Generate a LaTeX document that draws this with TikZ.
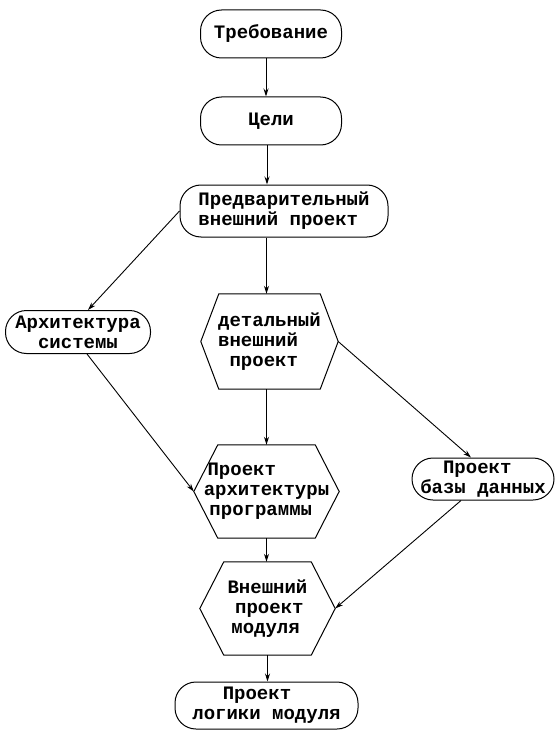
\documentclass[tikz,border=0pt]{standalone}
\usepackage{fontspec}
\setmonofont{Liberation Mono}
\usetikzlibrary{arrows.meta,calc}
\begin{document}
\begin{tikzpicture}[x=1pt,y=-1pt,
  every node/.style={font=\ttfamily\bfseries\fontsize{19}{20}\selectfont, inner sep=0pt},
  stadium/.style={draw, line width=1pt, rounded corners=21pt},
  hexbox/.style={draw=none},
  conn/.style={line width=0.9pt, -{Stealth[length=8pt,width=5pt]}}
]
\useasboundingbox (0,0) rectangle (555,730);
% stadiums
\node[stadium, minimum width=141pt, minimum height=48pt] (treb) at (271,34) {Требование};
\node[stadium, minimum width=141pt, minimum height=48pt] (celi) at (271,121) {Цели};
\node[stadium, minimum width=208pt, minimum height=52pt, align=left] (pred) at (284,211) {Предварительный\\внешний проект};
\node[stadium, minimum width=145pt, minimum height=43pt, align=center] (arch) at (78,332) {Архитектура\\системы};
\node[stadium, minimum width=142pt, minimum height=42pt, align=left] (bd) at (483,479) {\hspace*{1.2em}Проект\\базы данных};
\node[stadium, minimum width=183pt, minimum height=47pt, align=left] (logic) at (266.5,705.5) {\hspace*{1.6em}Проект\\логики модуля};
% hexagons
\node[hexbox, minimum width=137pt, minimum height=95pt, align=left] (det) at (269.5,341.5) {детальный\\внешний\\\hspace*{0.6em}проект};
\node[hexbox, minimum width=145pt, minimum height=93pt, align=left] (parch) at (266.5,491.5) {\hspace*{0.2em}Проект\\архитектуры\\\hspace*{0.3em}программы};
\node[hexbox, minimum width=135pt, minimum height=93pt, align=left] (vnesh) at (267.5,608.5) {Внешний\\\hspace*{0.4em}проект\\\hspace*{0.2em}модуля};
\foreach \n/\d in {det/18, parch/24, vnesh/24}{
  \draw[line width=1pt] ([xshift=\d pt]\n.north west) -- ([xshift=-\d pt]\n.north east) -- (\n.east)
    -- ([xshift=-\d pt]\n.south east) -- ([xshift=\d pt]\n.south west) -- (\n.west) -- cycle;
}
% connectors
\draw[conn] ([xshift=-5pt]treb.south) -- ([xshift=-5pt]celi.north);
\draw[conn] ([xshift=-4pt]celi.south) -- ([xshift=-4pt]celi.south |- pred.north);
\draw[conn] ([xshift=-3pt]det.north |- pred.south) -- ([xshift=-3pt]det.north);
\draw[conn] (pred.west) -- ([xshift=10pt]arch.north);
\draw[conn] ([xshift=9pt]arch.south) -- (parch.west);
\draw[conn] ([xshift=-3pt]det.south) -- ([xshift=-3pt]det.south |- parch.north);
\draw[conn] (det.east) -- ([xshift=-12pt]bd.north);
\draw[conn] (parch.south) -- (parch.south |- vnesh.north);
\draw[conn] ([xshift=-22pt]bd.south) -- (vnesh.east);
\draw[conn] (vnesh.south) -- (vnesh.south |- logic.north);
\end{tikzpicture}
\end{document}
